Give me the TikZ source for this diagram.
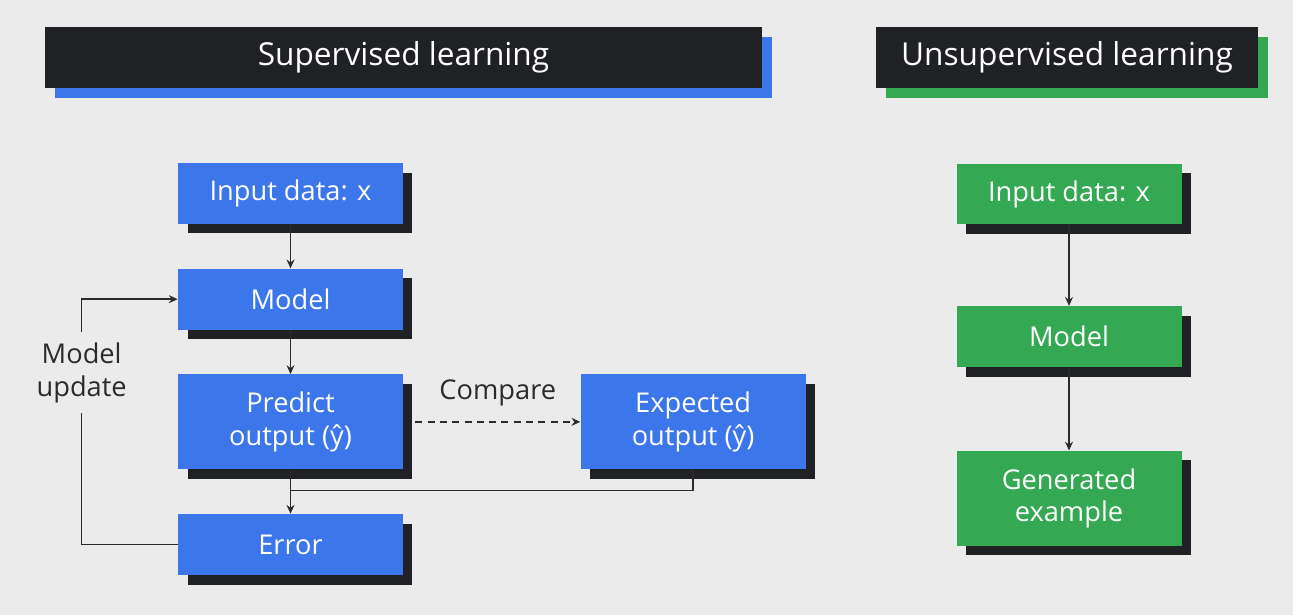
\documentclass[tikz,border=0pt]{standalone}
\usepackage{fontspec}
\setmainfont{Open Sans}
\usetikzlibrary{positioning,arrows.meta,shadows}
\definecolor{gblue}{HTML}{3B76EA}
\definecolor{ggreen}{HTML}{34A853}
\definecolor{gblack}{HTML}{202124}
\definecolor{paper}{HTML}{EBEBEB}
\definecolor{linec}{HTML}{2B2B2B}

\begin{document}
\begin{tikzpicture}[x=0.02cm, y=-0.02cm, node distance=0.88cm,
  every node/.style={align=center, text=linec, font=\fontsize{15.5}{18.5}\selectfont},
  head/.style={fill=gblack, text=white, minimum height=1.22cm, inner sep=0pt, font=\fontsize{18}{22}\selectfont},
  sbox/.style={fill=gblue, text=white, minimum width=4.5cm, minimum height=1.22cm, inner sep=0pt,
    drop shadow={shadow xshift=0.19cm, shadow yshift=-0.19cm, fill=gblack, opacity=1}},
  ubox/.style={sbox, fill=ggreen},
  tall/.style={minimum height=1.9cm},
  link/.style={draw=linec, line width=0.85pt},
  arr/.style={link, -{Stealth[length=5pt, width=4.5pt]}}]
        \fill[paper] (0,0) rectangle (1293,615);
        % headers
        \node[head, minimum width=14.34cm, drop shadow={shadow xshift=0.2cm, shadow yshift=-0.2cm, fill=gblue, opacity=1}] (suphead) at (403.5,57.5) {Supervised learning};
        \node[head, minimum width=7.64cm, drop shadow={shadow xshift=0.2cm, shadow yshift=-0.2cm, fill=ggreen, opacity=1}] (unsuphead) at (1067,57.5) {Unsupervised learning};
        % supervised
        \node[sbox] (sinput) at (290.5,193.5) {Input data: x};
        \node[sbox, below=0.88cm of sinput] (smodel) {Model};
        \node[sbox, tall, below=0.88cm of smodel] (spred) {Predict\\output (ŷ)};
        \node[sbox, below=0.88cm of spred] (serror) {Error};
        \node[sbox, tall, right=3.54cm of spred] (sexpect) {Expected\\output (ŷ)};
        \coordinate[below=0.42cm of spred.south] (sjoin);
        \draw[arr] (sinput) -- (smodel);
        \draw[arr] (smodel) -- (spred);
        \draw[arr] (spred) -- (serror);
        \draw[link] (sexpect.south) |- (sjoin);
        \draw[arr, dash pattern=on 4pt off 3pt] ([xshift=0.24cm]spred.east) -- node[above=5pt] {Compare} (sexpect.west);
        \draw[arr] (serror.west) -- ++(-96,0) |- node[pos=0.35, fill=paper, inner ysep=6pt, inner xsep=0pt] {Model\\update} (smodel.west);
        % unsupervised
        \node[ubox] (uinput) at (1069,194) {Input data: x};
        \node[ubox, below=1.62cm of uinput] (umodel) {Model};
        \node[ubox, tall, below=1.66cm of umodel] (ugen) {Generated\\example};
        \draw[arr] (uinput) -- (umodel);
        \draw[arr] (umodel) -- (ugen);
    \end{tikzpicture}
\end{document}
